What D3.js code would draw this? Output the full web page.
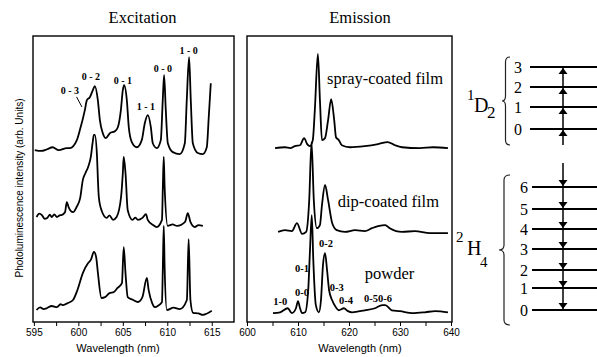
<!DOCTYPE html>
<html><head><meta charset="utf-8">
<script src="https://cdn.jsdelivr.net/npm/d3@7/dist/d3.min.js"></script>
<style>body{margin:0;background:#fff}svg{display:block}</style>
</head><body>
<svg id="chart" width="597" height="357"></svg>
<script>
// ---------- DATA ----------
// Excitation spectra: [wavelength nm, intensity rel. to own baseline (arb. units)]
const excTop = [[595.1,0],[595.8,-0.3],[596.5,0.3],[597.1,1.0],[597.8,0],[598.7,0.7],[599.04,0.7],[599.83,3.5],[600.17,7.0],[600.73,14.0],[600.96,17.5],[601.29,18.5],[601.63,21.0],[601.85,22.4],[602.19,17.5],[602.42,10.5],[602.75,5.9],[603.09,4.2],[603.54,5.9],[604.10,6.6],[604.44,8.0],[604.78,14.0],[605.0,21.0],[605.15,22.7],[605.45,17.5],[605.67,8.0],[606.01,2.8],[606.57,1.0],[607.13,3.5],[607.47,9.4],[607.81,12.2],[608.15,8.0],[608.37,2.4],[608.82,0.7],[609.27,3.5],[609.49,17.5],[609.64,26.2],[609.83,14.0],[610.06,2.4],[610.62,-0.7],[611.40,-1.4],[611.97,2.4],[612.19,17.5],[612.45,32.5],[612.64,17.5],[612.87,2.4],[613.43,-1.0],[613.99,-1.4],[614.44,1.0],[614.66,11.5],[614.89,23.4]];
const excMid = [[595.3,0],[595.6,1.2],[595.9,0.7],[596.2,-0.6],[596.5,-0.3],[596.8,0.8],[597.0,0],[597.3,0.9],[597.6,0],[597.9,0.6],[598.1,0.7],[598.5,1.7],[598.7,5.2],[598.9,3.5],[599.4,1.7],[599.8,3.5],[600.2,6.6],[600.5,12.9],[600.8,15.4],[601.1,17.5],[601.4,21.0],[601.6,25.9],[601.75,28.7],[601.85,28.7],[602.1,21.0],[602.2,12.9],[602.3,7.0],[602.6,2.4],[603.2,-0.3],[603.5,0.6],[603.9,-1.0],[604.3,0],[604.8,7.0],[605.0,15.4],[605.1,21.0],[605.3,15.4],[605.55,2.4],[606.1,-1.0],[606.4,-0.2],[606.7,-1.0],[607.2,-0.3],[607.6,1.0],[607.8,-1.0],[608.4,-2.8],[608.8,-3.5],[609.4,-1.0],[609.5,10.5],[609.6,21.0],[609.7,10.5],[610.05,-3.1],[610.6,-2.6],[611.1,-3.1],[612.0,-1.7],[612.3,1.4],[612.6,-1.7],[613.1,-3.5],[613.5,-2.8],[614.0,-3.1]];
const excBot = [[595.3,0],[595.7,0.9],[596.1,0.3],[596.5,0.7],[597.0,1.4],[597.6,1.0],[598.0,2.0],[598.3,1.7],[598.8,2.4],[599.4,3.5],[599.9,7.0],[600.5,12.9],[601.1,16.4],[601.4,17.5],[601.75,20.3],[602.0,18.5],[602.2,12.9],[602.6,4.2],[603.0,4.5],[603.5,5.9],[604.0,6.3],[604.4,7.7],[604.9,9.4],[605.1,22.0],[605.3,12.9],[605.55,4.5],[606.1,3.6],[606.7,2.8],[607.2,4.5],[607.7,11.2],[607.9,7.0],[608.3,2.4],[608.6,1.0],[609.0,1.6],[609.4,2.8],[609.5,15.0],[609.6,29.4],[609.7,15.0],[609.95,0],[610.7,0.8],[611.4,0.3],[612.2,3.5],[612.4,24.8],[612.6,3.5],[612.9,-1.0],[613.5,-1.2],[614.0,-1.7],[615.0,-0.3]];
const excOffsets = [60.1, 36.7, 4.2];

// Emission spectra
const emSpray = [[605.5,0],[607.45,0.3],[608.5,0],[609.4,0.7],[610.4,1.0],[611.2,3.5],[611.8,1.4],[612.35,0.7],[612.9,2.8],[613.3,13.3],[613.9,32.9],[614.3,16.8],[614.7,2.8],[615.3,3.5],[615.9,9.8],[616.5,17.1],[617.1,9.8],[617.45,3.8],[618.0,2.8],[618.6,1.0],[620.2,0.3],[623.1,0.7],[625.7,1.4],[627.6,2.1],[629.0,1.0],[630.4,0.3],[633.9,0],[636.5,0.3],[639.4,0]];
const emDip = [[606.1,-0.3],[607.45,0.3],[608.8,0],[609.8,2.8],[610.8,-1.0],[611.6,-0.3],[612.2,10.8],[612.65,31.1],[613.1,10.8],[613.7,1.0],[614.3,2.1],[614.7,9.1],[615.3,16.1],[615.9,10.8],[616.7,2.8],[617.6,0.3],[619.2,-0.3],[621.2,0.3],[623.1,0],[624.5,1.0],[625.7,1.7],[627.1,2.1],[628.0,1.0],[630.4,-0.3],[632.9,0],[635.9,-0.7],[639.4,-0.7]];
const emPowder = [[605.1,0],[606.5,0.3],[608.0,1.7],[608.8,0],[609.6,1.7],[610.0,4.2],[610.4,1.7],[610.8,0],[611.4,0.3],[612.0,8.0],[612.35,22.0],[612.7,34.3],[613.0,18.5],[613.5,2.8],[614.1,0.3],[614.5,4.5],[614.9,16.8],[615.3,21.0],[615.7,15.0],[616.1,8.0],[616.7,4.5],[617.3,2.4],[618.0,1.0],[619.0,1.7],[619.8,0.7],[620.6,0.3],[623.1,1.0],[625.1,1.7],[626.5,2.8],[627.1,2.8],[628.4,1.0],[630.0,0.7],[632.4,0],[634.9,0.3],[636.9,0.7],[639.4,0.3]];
const emOffsets = [60.8, 31.8, 3.1];

// Ticks
const excTicks = [595, 597.5, 600, 602.5, 605, 607.5, 610, 612.5, 615];
const excTickLabels = [595, 600, 605, 610, 615];
const emTicks = [600, 605, 610, 615, 620, 625, 630, 635, 640];
const emTickLabels = [600, 610, 620, 630, 640];

// Annotations [wavelength, intensity, text]
const excPeakLabels = [[599.05,81.1,"0 - 3"],[601.4,85.7,"0 - 2"],[605.0,84.6,"0 - 1"],[607.6,75.2,"1 - 1"],[609.5,88.8,"0 - 0"],[612.4,95.1,"1 - 0"]];
const emPeakLabels = [[606.5,7.3,"1-0"],[610.8,10.5,"0-0"],[610.8,18.9,"0-1"],[615.5,27.6,"0-2"],[617.6,12.2,"0-3"],[619.4,7.7,"0-4"],[625.7,8.4,"0-50-6"]];
const sampleNames = ["spray-coated film", "dip-coated film", "powder"];
const sampleLabelPos = [[615.7,85.0],[617.8,42.0],[623.1,17.1]];

// Energy levels (arb. energy)
const d2Levels = [8.83, 9.90, 10.88, 11.85];
const h4Levels = [0, 1.07, 1.95, 2.98, 3.95, 4.93, 6.0];

// ---------- DRAW ----------
const svg = d3.select("#chart");
const serif = "'Liberation Serif','Times New Roman',serif";
const sans = "'Liberation Sans',Arial,sans-serif";

const xExc = d3.scaleLinear().domain([594.9, 617.5]).range([33, 234]);
const xEm = d3.scaleLinear().domain([600, 640]).range([247, 451]);
const y = d3.scaleLinear().domain([0, 100]).range([322, 36]);

function panel(x, ticks, labels) {
  const [x0, x1] = x.range();
  const ax = d3.axisBottom(x).tickValues(ticks).tickSize(4).tickSizeOuter(0).tickPadding(3)
    .tickFormat(d => labels.includes(d) ? d : "");
  const g = svg.append("g").attr("transform", `translate(0,${y(0)})`).call(ax);
  g.select(".domain").remove();
  g.selectAll("text").attr("font-family", sans).attr("font-size", 10).attr("fill", "#000");
  g.selectAll("line").attr("stroke", "#000");
  svg.append("rect").attr("x", x0).attr("y", y(100)).attr("width", x1 - x0 + (x === xEm ? 1 : 0))
    .attr("height", y(0) - y(100)).attr("fill", "none").attr("stroke", "#000").attr("stroke-width", 1.4);
}
panel(xExc, excTicks, excTickLabels);
panel(xEm, emTicks, emTickLabels);

function drawSeries(x, data, off) {
  const line = d3.line().x(d => x(d[0])).y(d => y(d[1] + off)).curve(d3.curveMonotoneX);
  svg.append("path").attr("d", line(data)).attr("fill", "none").attr("stroke", "#000")
    .attr("stroke-width", 1.8).attr("stroke-linejoin", "round");
}
[excTop, excMid, excBot].forEach((s, i) => drawSeries(xExc, s, excOffsets[i]));
[emSpray, emDip, emPowder].forEach((s, i) => drawSeries(xEm, s, emOffsets[i]));

// titles
svg.append("text").attr("x", 142.5).attr("y", 23).attr("text-anchor", "middle")
  .attr("font-family", serif).attr("font-size", 16.5).text("Excitation");
svg.append("text").attr("x", 360).attr("y", 23).attr("text-anchor", "middle")
  .attr("font-family", serif).attr("font-size", 16.5).text("Emission");
svg.append("text").attr("x", 118).attr("y", 352).attr("text-anchor", "middle")
  .attr("font-family", sans).attr("font-size", 11).text("Wavelength (nm)");
svg.append("text").attr("x", 360).attr("y", 352).attr("text-anchor", "middle")
  .attr("font-family", sans).attr("font-size", 11).text("Wavelength (nm)");
svg.append("text").attr("transform", "translate(23,188) rotate(-90)").attr("text-anchor", "middle")
  .attr("font-family", sans).attr("font-size", 10).text("Photoluminescence intensity (arb. Units)");

// excitation peak labels
svg.selectAll(".el").data(excPeakLabels).join("text")
  .attr("x", d => xExc(d[0])).attr("y", d => y(d[1])).attr("dy", "0.35em")
  .attr("text-anchor", "middle").attr("font-family", serif).attr("font-weight", "bold")
  .attr("font-size", 10).text(d => d[2]);
svg.append("line").attr("x1", xExc(599.8)).attr("y1", y(78.7)).attr("x2", xExc(600.4)).attr("y2", y(75.2))
  .attr("stroke", "#000").attr("stroke-width", 1);

// emission labels
svg.selectAll(".ml").data(emPeakLabels).join("text")
  .attr("x", d => xEm(d[0])).attr("y", d => y(d[1])).attr("dy", "0.35em")
  .attr("text-anchor", "middle").attr("font-family", serif).attr("font-weight", "bold")
  .attr("font-size", 10.5).text(d => d[2]);
svg.selectAll(".sl").data(sampleNames).join("text")
  .attr("x", (d, i) => xEm(sampleLabelPos[i][0])).attr("y", (d, i) => y(sampleLabelPos[i][1])).attr("dy", "0.33em")
  .attr("font-family", serif).attr("font-size", 16.5).text(d => d);

// ---------- energy diagram ----------
const yE = d3.scaleLinear().domain([0, 12]).range([310, 64]);
const arrowX = 563;
const g = svg.append("g");
function levels(arr, xStart, labelX) {
  arr.forEach((e, i) => {
    g.append("line").attr("x1", xStart).attr("x2", 597).attr("y1", yE(e)).attr("y2", yE(e))
      .attr("stroke", "#000").attr("stroke-width", 2);
    g.append("text").attr("x", labelX).attr("y", yE(e)).attr("dy", "0.35em").attr("text-anchor", "middle")
      .attr("font-family", serif).attr("font-size", 16).text(i);
  });
}
levels(d2Levels, 530, 518);
levels(h4Levels, 532, 524);
// vertical lines
g.append("line").attr("x1", arrowX).attr("x2", arrowX).attr("y1", yE(d2Levels[3])).attr("y2", yE(d2Levels[0]) + 16)
  .attr("stroke", "#000").attr("stroke-width", 1.5);
g.append("line").attr("x1", arrowX).attr("x2", arrowX).attr("y1", yE(h4Levels[6]) - 24).attr("y2", yE(0))
  .attr("stroke", "#000").attr("stroke-width", 1.5);
// triangles
d2Levels.forEach(e => {
  const yy = yE(e);
  g.append("path").attr("d", `M${arrowX},${yy + 1} L${arrowX + 4.5},${yy + 7} L${arrowX - 4.5},${yy + 7} Z`).attr("fill", "#000");
});
h4Levels.forEach(e => {
  const yy = yE(e);
  g.append("path").attr("d", `M${arrowX},${yy - 1} L${arrowX + 4.5},${yy - 7} L${arrowX - 4.5},${yy - 7} Z`).attr("fill", "#000");
});
// braces
function brace(tipX, vx, rx, top, bottom) {
  const mid = (top + bottom) / 2, r = 5;
  const d = `M${rx},${top} Q${vx},${top} ${vx},${top + r} L${vx},${mid - r} Q${vx},${mid} ${tipX},${mid} ` +
            `Q${vx},${mid} ${vx},${mid + r} L${vx},${bottom - r} Q${vx},${bottom} ${rx},${bottom}`;
  g.append("path").attr("d", d).attr("fill", "none").attr("stroke", "#222").attr("stroke-width", 1.2);
}
brace(502, 505.5, 510, 57, 145);
brace(499, 504, 510, 175, 325);
// term symbols
function txt(x, yy, size, t) {
  g.append("text").attr("x", x).attr("y", yy).attr("font-family", serif).attr("font-size", size).text(t);
}
txt(467, 100, 15, "1"); txt(474, 112, 20, "D"); txt(487, 118, 17, "2");
txt(456, 242, 15, "2"); txt(467, 255, 20, "H"); txt(480, 267, 15, "4");
</script>
</body></html>
